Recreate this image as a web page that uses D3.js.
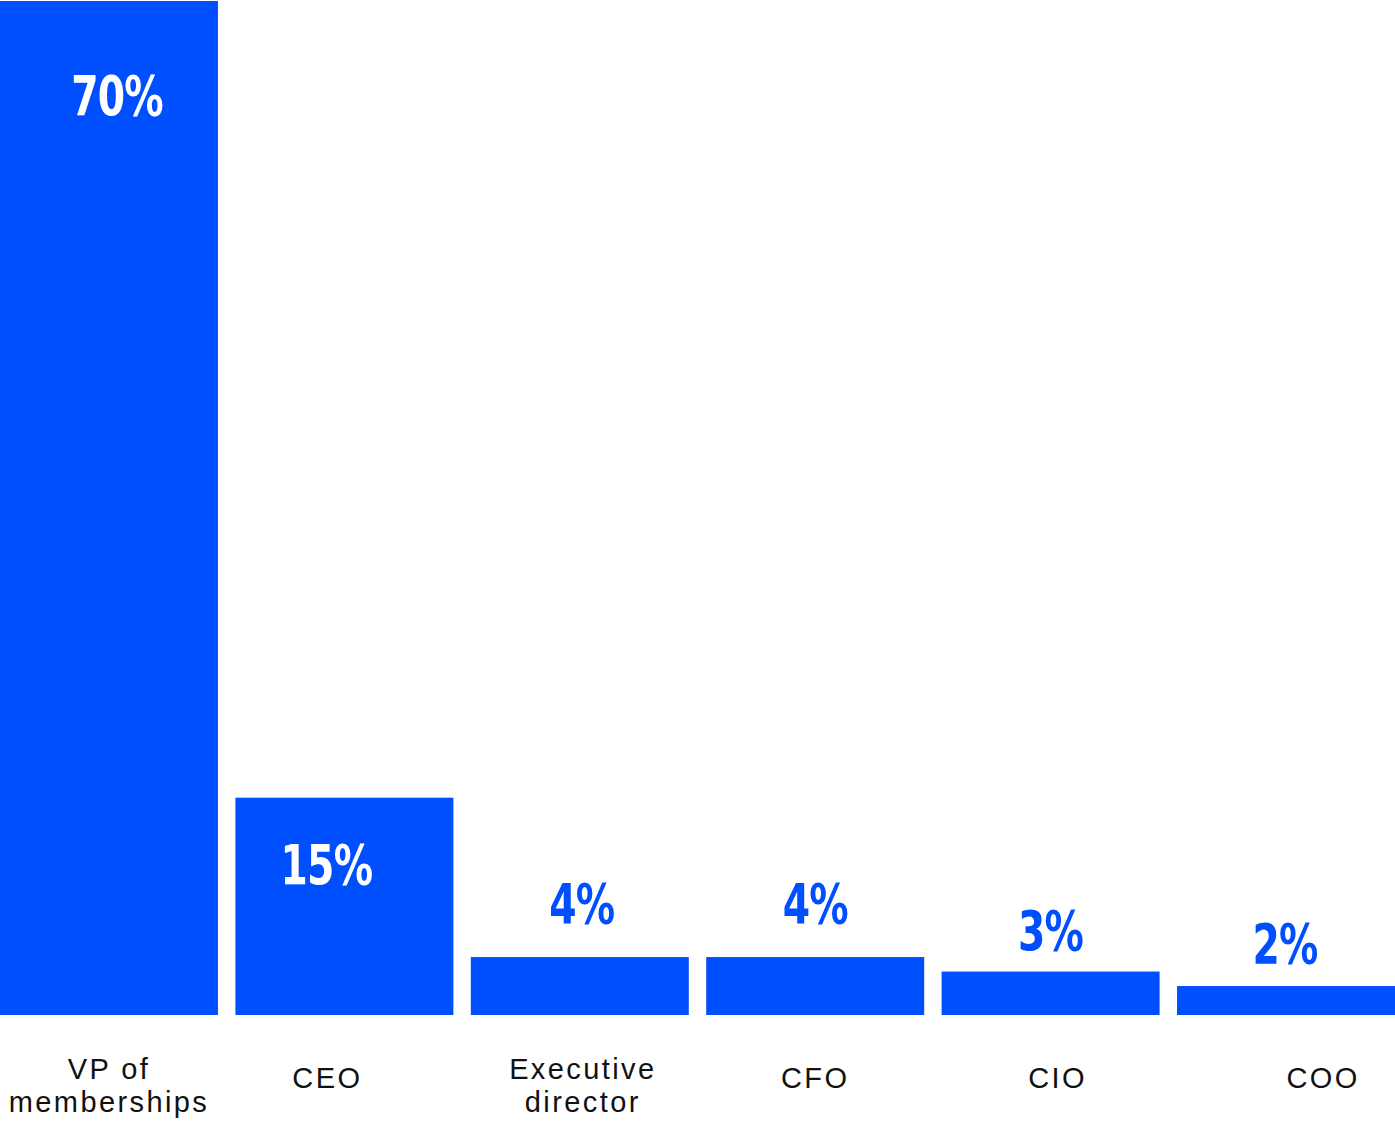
<!DOCTYPE html>
<html>
<head>
<meta charset="utf-8">
<script src="https://cdn.jsdelivr.net/npm/d3@7"></script>
<style>
  html, body { margin: 0; padding: 0; background: #ffffff; }
  svg { display: block; }
</style>
</head>
<body>
<svg id="chart" width="1395" height="1122"></svg>
<script>
// Share of respondents by job title
const roles = ["VP of memberships", "CEO", "Executive director", "CFO", "CIO", "COO"];
const shares = [70, 15, 4, 4, 3, 2];
const valueLabels = ["70%", "15%", "4%", "4%", "3%", "2%"];
const roleLines = [["VP of", "memberships"], ["CEO"], ["Executive", "director"], ["CFO"], ["CIO"], ["COO"]];

// Layout: label baseline offsets from the bar top, and small horizontal nudges
const valueLabelDy = [114, 86, -34, -34, -22, -23];
const valueLabelDx = [8, -18, 2, 0, 0, -1];
const roleLabelDx = [0, -17, 3, 0, 7, 37];

const W = 1395, H = 1122;
const baseY = 1015, topY = 1;
const barColor = "#004fff";

const svg = d3.select("#chart");

const x = d3.scaleBand()
  .domain(roles)
  .range([0, W])
  .paddingInner(0.074)
  .paddingOuter(0);

const y = d3.scaleLinear()
  .domain([0, 70])
  .range([baseY, topY]);

const data = roles.map((r, i) => ({ i, role: r, value: shares[i], label: valueLabels[i], lines: roleLines[i] }));

// Bars
svg.append("g").selectAll("rect")
  .data(data)
  .join("rect")
  .attr("x", d => x(d.role))
  .attr("y", d => y(d.value))
  .attr("width", x.bandwidth())
  .attr("height", d => y(0) - y(d.value))
  .attr("fill", barColor);

// Value labels: white inside tall bars, blue above short ones
const insideThreshold = 10;
svg.append("g").selectAll("text")
  .data(data)
  .join("text")
  .attr("transform", d => {
    const cx = x(d.role) + x.bandwidth() / 2 + valueLabelDx[d.i];
    const by = y(d.value) + valueLabelDy[d.i];
    return `translate(${cx},${by}) scale(0.78,1)`;
  })
  .attr("text-anchor", "middle")
  .attr("font-family", "'DejaVu Sans Condensed', 'DejaVu Sans', sans-serif")
  .attr("font-weight", "bold")
  .attr("font-size", 56)
  .attr("letter-spacing", -1)
  .attr("fill", d => d.value >= insideThreshold ? "#ffffff" : barColor)
  .text(d => d.label);

// Category labels below the baseline; two-line labels are separate text rows
const catRows = [];
data.forEach(d => {
  const cx = x(d.role) + x.bandwidth() / 2 + roleLabelDx[d.i];
  d.lines.forEach((t, k) => {
    const base = d.lines.length > 1 ? 1079 : 1088;
    catRows.push({ text: t, cx, by: base + k * 33 });
  });
});

svg.append("g").selectAll("text")
  .data(catRows)
  .join("text")
  .attr("x", d => d.cx)
  .attr("y", d => d.by)
  .attr("text-anchor", "middle")
  .attr("font-family", "'Liberation Sans', Arial, sans-serif")
  .attr("font-size", 29)
  .attr("letter-spacing", 2.4)
  .attr("fill", "#111111")
  .text(d => d.text);
</script>
</body>
</html>
